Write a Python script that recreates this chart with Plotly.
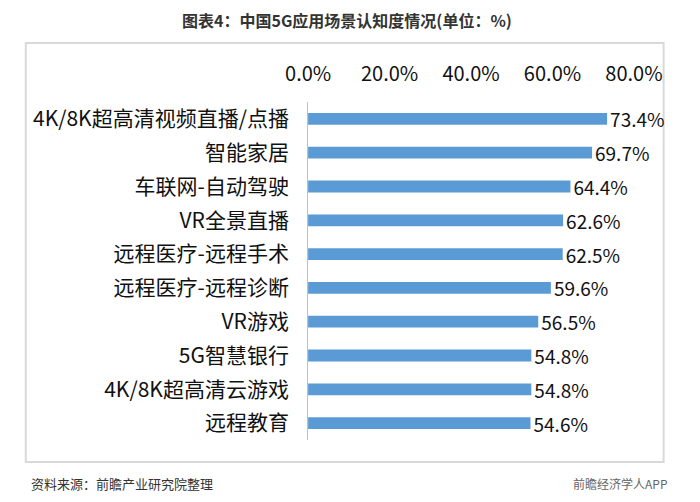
import plotly.graph_objects as go

categories = ["4K/8K超高清视频直播/点播", "智能家居", "车联网-自动驾驶", "VR全景直播",
              "远程医疗-远程手术", "远程医疗-远程诊断", "VR游戏", "5G智慧银行",
              "4K/8K超高清云游戏", "远程教育"]
values = [73.4, 69.7, 64.4, 62.6, 62.5, 59.6, 56.5, 54.8, 54.8, 54.6]
tick_vals = [0, 20, 40, 60, 80]
tick_text = ["0.0%", "20.0%", "40.0%", "60.0%", "80.0%"]
title_text = "图表4：中国5G应用场景认知度情况(单位：%)"
source_text = "资料来源：前瞻产业研究院整理"
brand_text = "前瞻经济学人APP"

W, H = 700, 502
FONT = "Noto Sans CJK SC"

fig = go.Figure(go.Bar(
    x=values, y=categories, orientation="h",
    marker=dict(color="#5B9BD5", line=dict(width=0)),
    text=[f"{v:.1f}%" for v in values], textposition="outside",
    constraintext="none",
    textfont=dict(size=19, color="#111111", family=FONT),
    cliponaxis=False,
))

fig.update_layout(
    width=W, height=H, margin=dict(l=0, r=0, t=0, b=0),
    paper_bgcolor="white", plot_bgcolor="white",
    bargap=0.65, showlegend=False,
    font=dict(family=FONT),
    xaxis=dict(domain=[308 / W, 660 / W], range=[0, 80], side="top",
               tickvals=tick_vals, ticktext=tick_text,
               tickfont=dict(size=20, color="#111111"),
               showgrid=False, zeroline=False, showline=False,
               ticks="outside", ticklen=12, tickcolor="rgba(0,0,0,0)"),
    yaxis=dict(domain=[(H - 440) / H, (H - 102) / H],
               categoryorder="array", categoryarray=categories[::-1],
               tickfont=dict(size=21, color="#111111"),
               showline=True, linecolor="#bfbfbf", linewidth=1,
               ticks="outside", ticklen=14, tickcolor="rgba(0,0,0,0)",
               showgrid=False, zeroline=False),
)

fig.add_shape(type="rect", xref="paper", yref="paper",
              x0=3 / W, x1=692 / W, y0=(H - 462) / H, y1=(H - 43) / H,
              line=dict(color="#d9d9d9", width=2), fillcolor="rgba(0,0,0,0)", layer="below")

fig.add_annotation(text=f"<b>{title_text}</b>", xref="paper", yref="paper",
                   x=350 / W, y=(H - 20) / H, xanchor="center", yanchor="middle",
                   showarrow=False, font=dict(size=16, color="#333333"))
fig.add_annotation(text=source_text, xref="paper", yref="paper",
                   x=7 / W, y=(H - 483) / H, xanchor="left", yanchor="middle",
                   showarrow=False, font=dict(size=13, color="#333333"))
fig.add_annotation(text=brand_text, xref="paper", yref="paper",
                   x=699 / W, y=(H - 483) / H, xanchor="right", yanchor="middle",
                   showarrow=False, font=dict(size=12, color="#666666"))

fig.write_html("out.html")
